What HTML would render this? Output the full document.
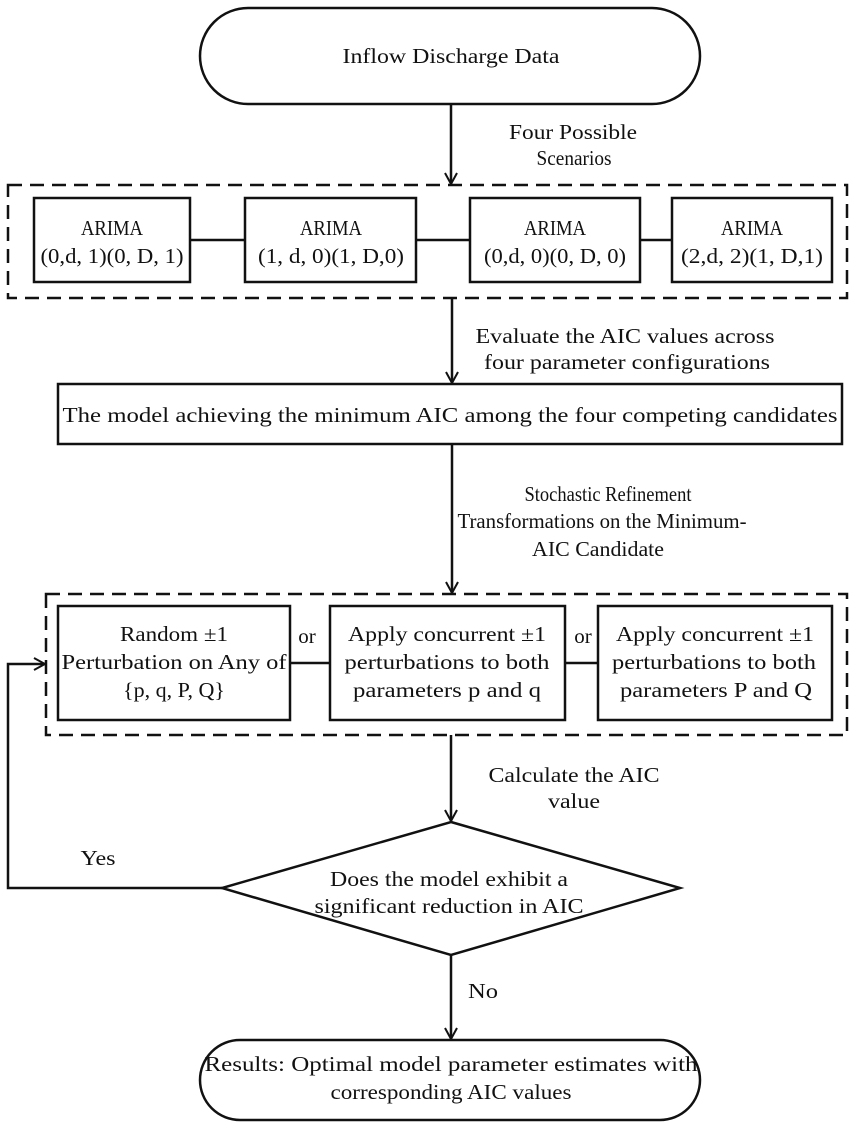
<!DOCTYPE html>
<html><head><meta charset="utf-8"><style>
body{margin:0;background:#fff}
svg{display:block}
text{font-family:"Liberation Serif",serif;font-size:21px;fill:#111;text-anchor:middle}
</style></head><body>
<svg width="851" height="1129" viewBox="0 0 851 1129">
<defs><marker id="a" markerWidth="14" markerHeight="14" refX="12" refY="7" orient="auto" markerUnits="userSpaceOnUse"><path d="M1,1 L12,7 L1,13" fill="none" stroke="#111" stroke-width="2"/></marker></defs>
<g stroke="#111" stroke-width="2.5" fill="none">
<rect x="200" y="8" width="500" height="96" rx="48"/>
<line x1="451" y1="104" x2="451" y2="184" marker-end="url(#a)"/>
<rect x="8" y="185" width="839" height="113" stroke-dasharray="14,8"/>
<rect x="34" y="198" width="156" height="84"/>
<rect x="245" y="198" width="171" height="84"/>
<rect x="470" y="198" width="170" height="84"/>
<rect x="672" y="198" width="160" height="84"/>
<line x1="190" y1="240" x2="245" y2="240"/>
<line x1="416" y1="240" x2="470" y2="240"/>
<line x1="640" y1="240" x2="672" y2="240"/>
<line x1="452" y1="298" x2="452" y2="383" marker-end="url(#a)"/>
<rect x="58" y="384" width="784" height="60"/>
<line x1="452" y1="444" x2="452" y2="593" marker-end="url(#a)"/>
<rect x="46" y="594" width="801" height="141" stroke-dasharray="14,8"/>
<rect x="58" y="606" width="232" height="114"/>
<rect x="330" y="606" width="235" height="114"/>
<rect x="598" y="606" width="234" height="114"/>
<line x1="290" y1="663" x2="330" y2="663"/>
<line x1="565" y1="663" x2="598" y2="663"/>
<line x1="451" y1="735" x2="451" y2="821" marker-end="url(#a)"/>
<polygon points="451,822 680,888 451,955 222,888"/>
<polyline points="222,888 8,888 8,664 45,664" marker-end="url(#a)"/>
<line x1="451" y1="955" x2="451" y2="1039" marker-end="url(#a)"/>
<rect x="200" y="1040" width="500" height="80" rx="40"/>
</g>
<g lengthAdjust="spacingAndGlyphs">
<text x="451" y="63" textLength="217" lengthAdjust="spacingAndGlyphs">Inflow Discharge Data</text>
<text x="573" y="139" textLength="128" lengthAdjust="spacingAndGlyphs">Four Possible</text>
<text x="574" y="165" textLength="75" lengthAdjust="spacingAndGlyphs">Scenarios</text>
<text x="112" y="235" textLength="62" lengthAdjust="spacingAndGlyphs">ARIMA</text><text x="112" y="263" textLength="143" lengthAdjust="spacingAndGlyphs">(0,d, 1)(0, D, 1)</text>
<text x="331" y="235" textLength="62" lengthAdjust="spacingAndGlyphs">ARIMA</text><text x="331" y="263" textLength="146" lengthAdjust="spacingAndGlyphs">(1, d, 0)(1, D,0)</text>
<text x="555" y="235" textLength="62" lengthAdjust="spacingAndGlyphs">ARIMA</text><text x="555" y="263" textLength="142" lengthAdjust="spacingAndGlyphs">(0,d, 0)(0, D, 0)</text>
<text x="752" y="235" textLength="62" lengthAdjust="spacingAndGlyphs">ARIMA</text><text x="752" y="263" textLength="142" lengthAdjust="spacingAndGlyphs">(2,d, 2)(1, D,1)</text>
<text x="625" y="343" textLength="299" lengthAdjust="spacingAndGlyphs">Evaluate the AIC values across</text>
<text x="627" y="369" textLength="286" lengthAdjust="spacingAndGlyphs">four parameter configurations</text>
<text x="450" y="422" textLength="775" lengthAdjust="spacingAndGlyphs">The model achieving the minimum AIC among the four competing candidates</text>
<text x="608" y="501" textLength="167" lengthAdjust="spacingAndGlyphs">Stochastic Refinement</text>
<text x="602" y="528" textLength="289" lengthAdjust="spacingAndGlyphs">Transformations on the Minimum-</text>
<text x="598" y="556" textLength="132" lengthAdjust="spacingAndGlyphs">AIC Candidate</text>
<text x="174" y="641" textLength="108" lengthAdjust="spacingAndGlyphs">Random ±1</text>
<text x="174" y="669" textLength="225" lengthAdjust="spacingAndGlyphs">Perturbation on Any of</text>
<text x="174" y="697" textLength="102" lengthAdjust="spacingAndGlyphs">{p, q, P, Q}</text>
<text x="447" y="641" textLength="198" lengthAdjust="spacingAndGlyphs">Apply concurrent ±1</text>
<text x="447" y="669" textLength="205" lengthAdjust="spacingAndGlyphs">perturbations to both</text>
<text x="447" y="697" textLength="188" lengthAdjust="spacingAndGlyphs">parameters p and q</text>
<text x="715" y="641" textLength="198" lengthAdjust="spacingAndGlyphs">Apply concurrent ±1</text>
<text x="714" y="669" textLength="204" lengthAdjust="spacingAndGlyphs">perturbations to both</text>
<text x="716" y="697" textLength="192" lengthAdjust="spacingAndGlyphs">parameters P and Q</text>
<text x="307" y="643">or</text>
<text x="583" y="643">or</text>
<text x="574" y="782" textLength="171" lengthAdjust="spacingAndGlyphs">Calculate the AIC</text>
<text x="574" y="808" textLength="52" lengthAdjust="spacingAndGlyphs">value</text>
<text x="98" y="865" textLength="35" lengthAdjust="spacingAndGlyphs">Yes</text>
<text x="449" y="886" textLength="238" lengthAdjust="spacingAndGlyphs">Does the model exhibit a</text>
<text x="449" y="913" textLength="269" lengthAdjust="spacingAndGlyphs">significant reduction in AIC</text>
<text x="483" y="998" textLength="30" lengthAdjust="spacingAndGlyphs">No</text>
<text x="451" y="1071" textLength="493" lengthAdjust="spacingAndGlyphs">Results: Optimal model parameter estimates with</text>
<text x="451" y="1099" textLength="241" lengthAdjust="spacingAndGlyphs">corresponding AIC values</text>
</g>
</svg>
</body></html>
